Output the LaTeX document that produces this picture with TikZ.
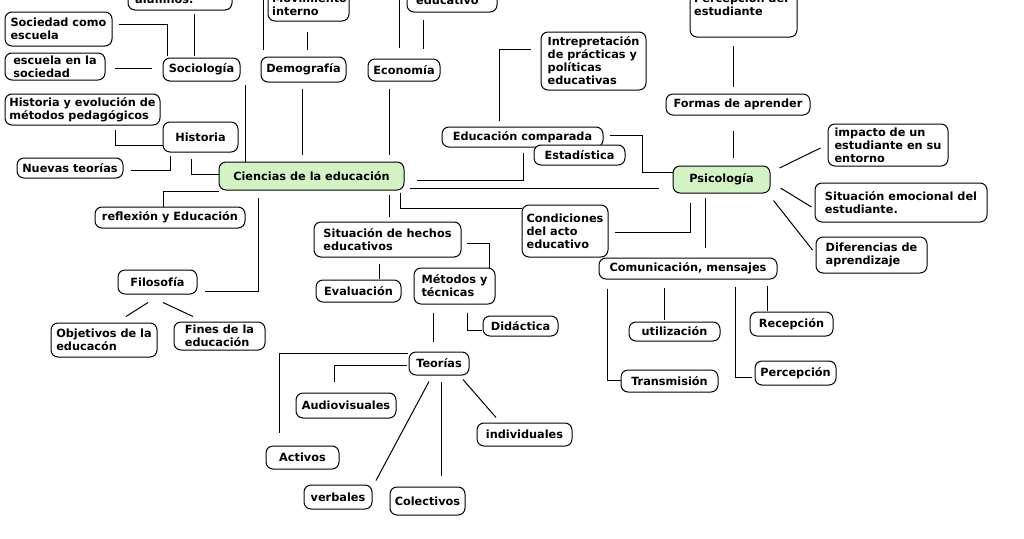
\documentclass[tikz,border=0pt]{standalone}
\usepackage{fontspec}
\setmainfont{DejaVu Sans}
\usetikzlibrary{calc}
\definecolor{nodegreen}{RGB}{212,243,197}
\tikzset{
  cbox/.style={draw=black,line width=1pt,rounded corners=7pt,inner sep=0pt,
    font=\bfseries\fontsize{11.3}{13}\selectfont,align=center,fill=white},
  ml/.style={align=left},
  green/.style={fill=nodegreen},
  txt/.style={inner sep=0pt,font=\bfseries\fontsize{11.3}{13}\selectfont},
  conn/.style={draw=black,line width=1pt}
}
\newcommand{\mybox}[7][]{%
  \pgfmathsetmacro\mbcx{(#3+#5)/2}%
  \pgfmathsetmacro\mbcy{(#4+#6)/2}%
  \pgfmathsetmacro\mbw{#5-#3}%
  \pgfmathsetmacro\mbh{#6-#4}%
  \node[cbox,minimum width=\mbw pt,minimum height=\mbh pt,#1] (#2) at (\mbcx,\mbcy) {#7};}
\begin{document}
\begin{tikzpicture}[x=1pt,y=-1pt]
\useasboundingbox (0,0) rectangle (1024,538);
\clip (0,0) rectangle (1024,538);

% cut nodes at the top edge
\mybox{alum}{128}{-30}{232}{10}{}
\node[txt,anchor=base west] (alumt) at (135,4) {alumnos.};
\mybox{movi}{268}{-20}{349}{21}{}
\node[txt,anchor=base west] (movit) at (272,2) {Movimiento};
\node[txt,anchor=base west] (movib) at (272,15) {interno};
\mybox{educ}{407}{-30}{497}{12}{}
\node[txt,anchor=base west] (educt) at (416,5) {educativo};
\mybox{perc}{690}{-20}{797}{37}{}
\node[txt,anchor=base west] (perct) at (694,2) {Percepción del};
\node[txt,anchor=base west] (percb) at (694,15) {estudiante};

% left
\mybox[ml]{socesc}{5}{12}{112}{46}{Sociedad como\\escuela}
\mybox[ml]{escsoc}{5}{53}{105}{80}{escuela en la\\sociedad}
\mybox{socio}{163}{58}{240}{81}{Sociología}
\mybox{demo}{261}{57}{346}{82}{Demografía}
\mybox{econ}{368}{59}{440}{81}{Economía}
\mybox[ml]{histev}{5}{94}{160}{125}{Historia y evolución de\\métodos pedagógicos}
\mybox{hist}{163}{122}{238}{152}{Historia}
\mybox{nuevas}{17}{158}{123}{178}{Nuevas teorías}
\mybox[green]{cien}{219}{162}{404}{190}{Ciencias de la educación}
\mybox{refl}{95}{207}{245}{228}{reflexión y Educación}
\mybox{filo}{118}{270}{197}{294}{Filosofía}
\mybox[ml]{obj}{51}{323}{157}{357}{Objetivos de la\\educacón}
\mybox[ml]{fines}{174}{322}{265}{350}{Fines de la\\educación}

% middle
\mybox[ml]{interp}{541}{32}{646}{90}{Intrepretación\\de prácticas y\\políticas\\educativas}
\mybox{edcomp}{442}{127}{603}{147}{Educación comparada}
\mybox{estad}{534}{145}{625}{165}{Estadística}
\mybox[ml]{sitheh}{314}{222}{461}{257}{Situación de hechos\\educativos}
\mybox[ml]{cond}{522}{205}{608}{257}{Condiciones\\del acto\\educativo}
\mybox{eval}{316}{280}{401}{302}{Evaluación}
\mybox[ml]{metod}{414}{268}{495}{304}{Métodos y\\técnicas}
\mybox{didac}{483}{316}{558}{336}{Didáctica}
\mybox{teor}{409}{352}{469}{375}{Teorías}
\mybox{audio}{296}{393}{396}{418}{Audiovisuales}
\mybox{activ}{266}{446}{339}{469}{Activos}
\mybox{indiv}{477}{423}{572}{446}{individuales}
\mybox{verb}{304}{485}{372}{509}{verbales}
\mybox{colec}{390}{487}{465}{515}{Colectivos}

% right
\mybox{formas}{666}{94}{810}{115}{Formas de aprender}
\mybox[green]{psico}{673}{166}{770}{193}{Psicología}
\mybox[ml]{impac}{828}{124}{948}{166}{impacto de un\\estudiante en su\\entorno}
\mybox[ml]{sitemo}{815}{183}{987}{222}{Situación emocional del\\estudiante.}
\mybox[ml]{difer}{816}{237}{927}{273}{Diferencias de\\aprendizaje}
\mybox{comun}{599}{258}{777}{279}{Comunicación, mensajes}
\mybox{utili}{629}{322}{720}{341}{utilización}
\mybox{recep}{750}{312}{833}{336}{Recepción}
\mybox{trans}{621}{370}{718}{392}{Transmisión}
\mybox{percep}{755}{361}{836}{385}{Percepción}

\coordinate (topA) at (263,0);
\coordinate (topB) at (399,0);
\coordinate (bendA) at (642,172);

% connectors
\draw[conn,shorten <=6pt,shorten >=2pt] (socesc.east |- 0,24) -| (socio.north -| 167,0);
\draw[conn,shorten <=3pt,shorten >=2pt] (alum.south -| 194,0) -- (socio.north -| 194,0);
\draw[conn,shorten <=9pt,shorten >=11pt] (escsoc.east |- 0,68) -- (socio.west |- 0,68);
\draw[conn,shorten <=3pt] (socio.south -| 245,0) -- (cien.north -| 245,0);
\draw[conn,shorten <=10pt,shorten >=7pt] (movi.south -| 307,0) -- (demo.north -| 307,0);
\draw[conn,shorten >=7pt] (topA) -- (demo.north -| 263,0);
\draw[conn,shorten <=6pt,shorten >=7pt] (demo.south -| 302,0) -- (cien.north -| 302,0);
\draw[conn,shorten >=11pt] (topB) -- (econ.north -| 399,0);
\draw[conn,shorten <=7pt,shorten >=10pt] (educ.south -| 423,0) -- (econ.north -| 423,0);
\draw[conn,shorten <=7pt,shorten >=7pt] (econ.south -| 389,0) -- (cien.north -| 389,0);
\draw[conn,shorten <=4pt] (histev.south -| 115,0) |- (hist.west |- 0,145);
\draw[conn,shorten <=7pt,shorten >=3pt] (nuevas.east |- 0,170) -| (hist.south -| 170,0);
\draw[conn,shorten <=6pt] (hist.south -| 191,0) |- (cien.west |- 0,174);
\draw[conn] (cien.west |- 0,191) -| (refl.north -| 163,0);
\draw[conn,shorten <=7pt,shorten >=7pt] (cien.south -| 258,0) |- (filo.east |- 0,291);
\draw[conn] ($(filo.south -| 148,0)+(0,8)$) -- ($(obj.north -| 126,0)+(0,-6)$);
\draw[conn] ($(filo.south -| 163,0)+(0,8)$) -- ($(fines.north -| 193,0)+(0,-5)$);
\draw[conn,shorten <=4pt,shorten >=5pt] (cien.south -| 389,0) -- (sitheh.north -| 389,0);
\draw[conn,shorten <=2pt] (cien.south -| 400,0) |- (cond.west |- 0,208);
\draw[conn,shorten <=12pt,shorten >=5pt] (cien.east |- 0,180) -| (edcomp.south -| 523,0);
\draw[conn,shorten <=5pt,shorten >=14pt] (cien.east |- 0,188) -- (psico.west |- 0,188);
\draw[conn,shorten <=6pt,shorten >=10pt] (edcomp.north -| 499,0) |- (interp.west |- 0,49);
\draw[conn,shorten <=6pt] (edcomp.east |- 0,135) -| (bendA) -- (psico.west |- 0,172);
\draw[conn,shorten <=5pt] (sitheh.east |- 0,243) -| (metod.north -| 489,0);
\draw[conn,shorten <=6pt,shorten >=1pt] (sitheh.south -| 379,0) -- (eval.north -| 379,0);
\draw[conn,shorten <=8pt,shorten >=1pt] (metod.south -| 467,0) |- (didac.west |- 0,330);
\draw[conn,shorten <=8pt,shorten >=10pt] (metod.south -| 433,0) -- (teor.north -| 433,0);
\draw[conn,shorten <=1pt,shorten >=13pt] (teor.west |- 0,353) -| (activ.north -| 279,0);
\draw[conn,shorten <=2pt,shorten >=11pt] (teor.west |- 0,365) -| (audio.north -| 334,0);
\draw[conn] ($(teor.south -| 429,0)+(0,6)$) -- ($(verb.north -| 376,0)+(0,-4)$);
\draw[conn,shorten <=6pt,shorten >=11pt] (teor.south -| 441,0) -- (colec.north -| 441,0);
\draw[conn] ($(teor.south -| 463,0)+(0,4)$) -- ($(indiv.north -| 496,0)+(0,-5)$);
\draw[conn,shorten <=15pt,shorten >=8pt] (formas.south -| 733,0) -- (psico.north -| 733,0);
\draw[conn,shorten <=8pt,shorten >=7pt] (perc.south -| 733,0) -- (formas.north -| 733,0);
\draw[conn] ($(psico.east |- 0,168)+(9,0)$) -- ($(impac.west |- 0,148)+(-7,0)$);
\draw[conn] ($(psico.east |- 0,188)+(10,0)$) -- ($(sitemo.west |- 0,207)+(-3,0)$);
\draw[conn] ($(psico.south east)+(3,7)$) -- ($(difer.west |- 0,250)+(-3,0)$);
\draw[conn,shorten <=9pt,shorten >=6pt] (psico.south -| 690,0) |- (cond.east |- 0,232);
\draw[conn,shorten <=4pt,shorten >=10pt] (psico.south -| 705,0) -- (comun.north -| 705,0);
\draw[conn,shorten <=9pt] (comun.south -| 607,0) |- (trans.west |- 0,380);
\draw[conn,shorten <=8pt,shorten >=2pt] (comun.south -| 664,0) -- (utili.north -| 664,0);
\draw[conn,shorten <=7pt,shorten >=3pt] (comun.south -| 735,0) |- (percep.west |- 0,377);
\draw[conn,shorten <=6pt,shorten >=1pt] (comun.south -| 767,0) -- (recep.north -| 767,0);
\end{tikzpicture}
\end{document}
